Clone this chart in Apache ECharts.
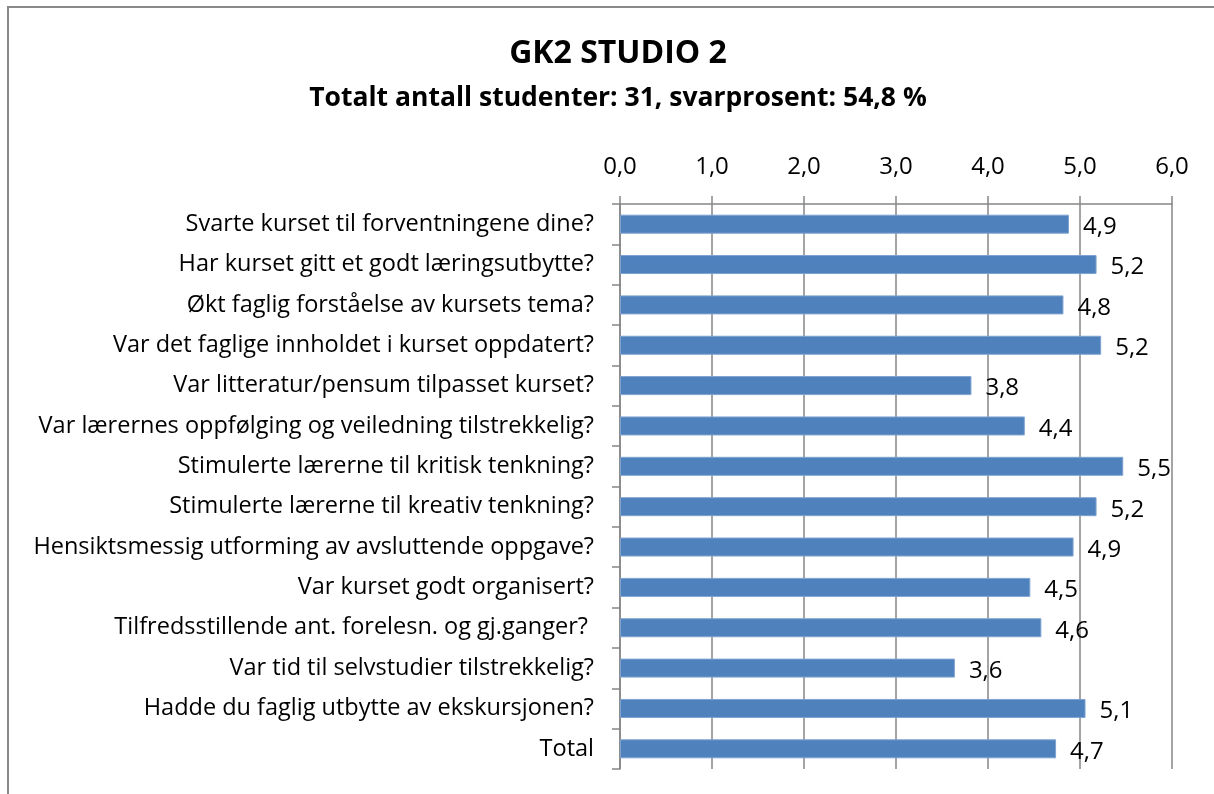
<!DOCTYPE html>
<html lang="nb">
<head>
    <meta charset="UTF-8">
    <title>GK2 STUDIO 2</title>
    <script src="https://cdn.jsdelivr.net/npm/echarts@6/dist/echarts.min.js"></script>
    <style>
        html, body { margin: 0; padding: 0; background: #fff; }
        #main { width: 1214px; height: 794px; }
    </style>
</head>
<body>
<div id="main"></div>
<script>
    // spørsmål (øverst først)
    var categories = [
        'Svarte kurset til forventningene dine?',
        'Har kurset gitt et godt læringsutbytte?',
        'Økt faglig forståelse av kursets tema?',
        'Var det faglige innholdet i kurset oppdatert?',
        'Var litteratur/pensum tilpasset kurset?',
        'Var lærernes oppfølging og veiledning tilstrekkelig?',
        'Stimulerte lærerne til kritisk tenkning?',
        'Stimulerte lærerne til kreativ tenkning?',
        'Hensiktsmessig utforming av avsluttende oppgave?',
        'Var kurset godt organisert?',
        'Tilfredsstillende ant. forelesn. og gj.ganger? ',
        'Var tid til selvstudier tilstrekkelig?',
        'Hadde du faglig utbytte av ekskursjonen?',
        'Total'
    ];
    var scores = [4.88, 5.18, 4.82, 5.23, 3.82, 4.40, 5.47, 5.18, 4.93, 4.46, 4.58, 3.64, 5.06, 4.74];
    var axisMin = 0, axisMax = 6, axisStep = 1;

    var titleText = 'GK2 STUDIO 2';
    var subText = 'Totalt antall studenter: 31, svarprosent: 54,8 %';

    var fontName = '"Open Sans", Lato, sans-serif';

    function komma(v) {
        return v.toFixed(1).replace('.', ',');
    }

    var myChart = echarts.init(document.getElementById('main'));
    var option = {
        backgroundColor: '#fff',
        animation: false,
        textStyle: { fontFamily: fontName },
        graphic: [{
            type: 'rect',
            shape: { x: 8, y: 7, width: 1230, height: 820 },
            style: { fill: 'none', stroke: '#898989', lineWidth: 2 }
        }],
        title: [{
            text: titleText,
            left: 613, top: 33, textAlign: 'center',
            textStyle: { fontSize: 32, fontWeight: 'bold', color: '#000', fontFamily: fontName }
        }, {
            text: subText,
            left: 613, top: 80, textAlign: 'center',
            textStyle: { fontSize: 26.5, fontWeight: 'bold', color: '#000', fontFamily: fontName }
        }],
        grid: { left: 620, right: 42, top: 204, bottom: 25, containLabel: false },
        xAxis: {
            type: 'value',
            position: 'top',
            min: axisMin, max: axisMax, interval: axisStep,
            axisLine: { show: true, lineStyle: { color: '#868686', width: 1.5 } },
            axisTick: { show: true, length: 8, lineStyle: { color: '#868686', width: 1.5 } },
            splitLine: { show: true, lineStyle: { color: '#868686', width: 1.5 } },
            axisLabel: {
                fontSize: 24, color: '#000', margin: 25,
                formatter: function (v) { return komma(v); }
            }
        },
        yAxis: {
            type: 'category',
            inverse: true,
            data: categories,
            axisLine: { show: true, lineStyle: { color: '#868686', width: 1.5 } },
            axisTick: { show: true, length: 8, lineStyle: { color: '#868686', width: 1.5 } },
            axisLabel: { fontSize: 23.5, color: '#000', margin: 26 }
        },
        series: [{
            type: 'bar',
            data: scores,
            barWidth: 19,
            itemStyle: { color: '#4F81BD', borderColor: '#7EA3D0', borderWidth: 1 },
            label: {
                show: true,
                position: 'right',
                distance: 14,
                offset: [0, 3],
                fontSize: 24,
                color: '#000',
                formatter: function (p) { return komma(p.value); }
            }
        }]
    };
    option && myChart.setOption(option);
</script>
</body>
</html>
